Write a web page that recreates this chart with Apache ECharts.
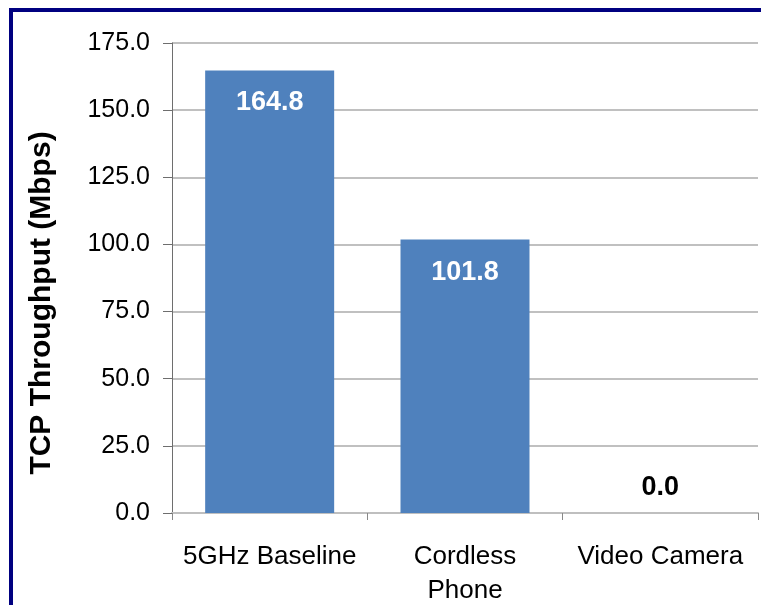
<!DOCTYPE html>
<html>
<head>
<meta charset="utf-8">
<script src="https://cdn.jsdelivr.net/npm/echarts@6/dist/echarts.min.js"></script>
<style>
  html, body { margin: 0; padding: 0; background: #ffffff; }
  #chart { width: 761px; height: 605px; }
</style>
</head>
<body>
<div id="chart"></div>
<script>
// TCP throughput per interference scenario
const categories = ['5GHz Baseline', 'Cordless\nPhone', 'Video Camera'];
const throughput = [164.8, 101.8, 0.0];
const axisTitle = 'TCP Throughput (Mbps)';

const FONT = '"Liberation Sans", Arial, sans-serif';

const barData = throughput.map(function (v) {
  return {
    value: v,
    label: v > 0
      ? { position: 'insideTop', distance: 19, color: '#ffffff' }
      : { position: 'top', distance: 12, color: '#000000' }
  };
});

const chart = echarts.init(document.getElementById('chart'), null, { renderer: 'canvas' });

chart.setOption({
  backgroundColor: '#ffffff',
  animation: false,
  grid: {
    left: 172, top: 43, right: 3, bottom: 92,
    containLabel: false, outerBoundsMode: 'none'
  },
  xAxis: {
    type: 'category',
    data: categories,
    axisLine: { show: true, lineStyle: { color: '#bfbfbf', width: 2 } },
    axisTick: { show: true, length: 7, lineStyle: { color: '#888888', width: 1 } },
    axisLabel: {
      color: '#000000', fontFamily: FONT, fontSize: 26, lineHeight: 34,
      margin: 27, interval: 0
    },
    splitLine: { show: false }
  },
  yAxis: {
    type: 'value',
    min: 0, max: 175, interval: 25,
    axisLine: { show: true, lineStyle: { color: '#6e6e6e', width: 1 } },
    axisTick: { show: true, length: 9, lineStyle: { color: '#6e6e6e', width: 1 } },
    axisLabel: {
      color: '#000000', fontFamily: FONT, fontSize: 25, margin: 22,
      formatter: function (v) { return v.toFixed(1); }
    },
    splitLine: { show: true, lineStyle: { color: '#c0c0c0', width: 2 } }
  },
  series: [{
    type: 'bar',
    data: barData,
    barWidth: 129,
    itemStyle: { color: '#4f81bd' },
    label: {
      show: true,
      fontFamily: FONT, fontSize: 27, fontWeight: 'bold',
      formatter: function (p) { return p.value.toFixed(1); }
    }
  }],
  graphic: [
    // frame edges
    { type: 'rect', silent: true, shape: { x: 9, y: 8, width: 752, height: 4 }, style: { fill: '#000080' } },
    { type: 'rect', silent: true, shape: { x: 9, y: 8, width: 4, height: 597 }, style: { fill: '#000080' } },
    // vertical axis title
    {
      type: 'text', x: 42, y: 303, rotation: Math.PI / 2,
      style: {
        text: axisTitle, fill: '#000000',
        font: 'bold 30px ' + FONT,
        textAlign: 'center', textVerticalAlign: 'middle'
      }
    }
  ]
});
</script>
</body>
</html>
